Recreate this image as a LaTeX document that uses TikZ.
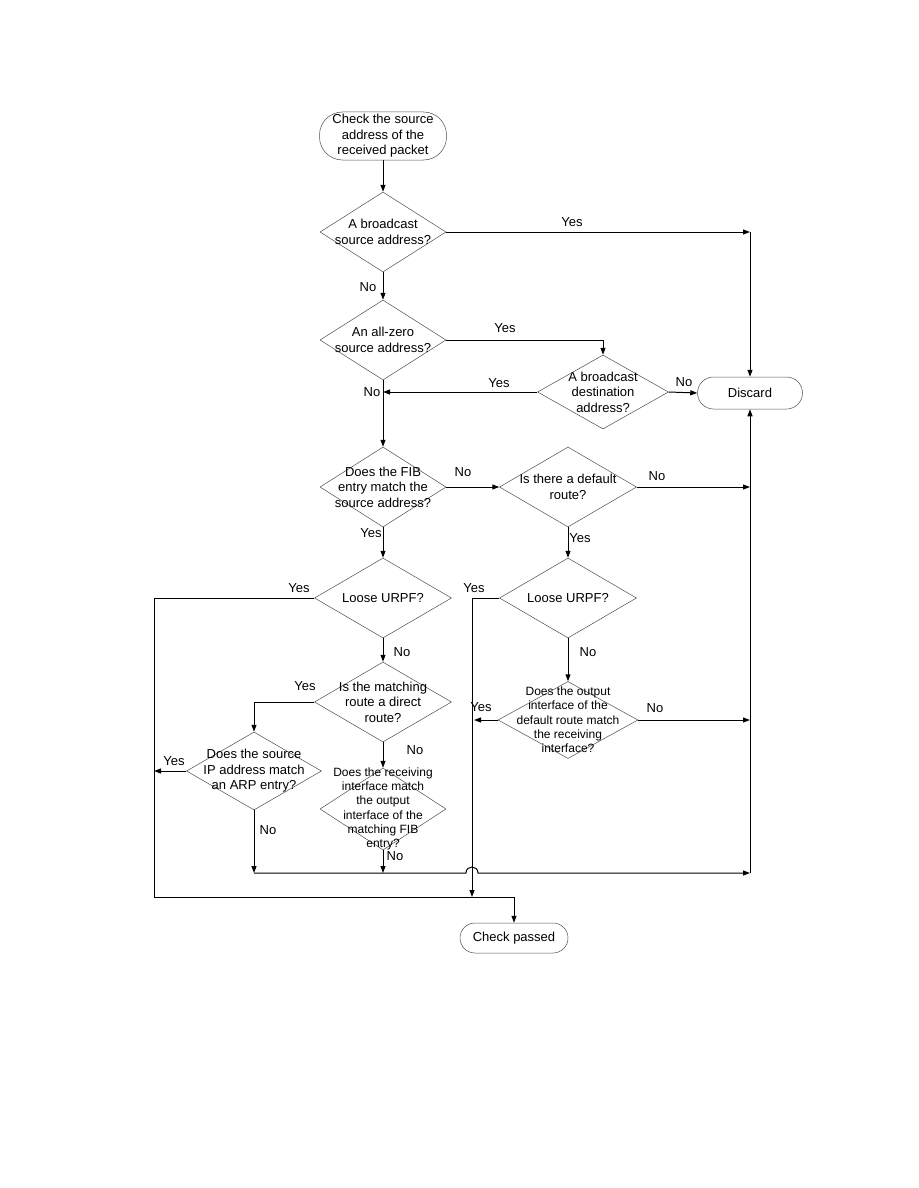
\documentclass[tikz,border=0pt]{standalone}
\usepackage{fontspec}
\setmainfont{Liberation Sans}
\usetikzlibrary{shapes.geometric,arrows.meta}
\begin{document}
\begin{tikzpicture}[x=1pt,y=-1pt,
  dia/.style={draw=black!70, line width=0.5pt, diamond, inner sep=0pt},
  term/.style={draw=black!70, line width=0.5pt, rectangle, inner sep=0pt},
  txt/.style={align=center, font=\fontsize{13}{15.5}\selectfont, inner sep=0pt},
  stxt/.style={align=center, font=\fontsize{12}{14.3}\selectfont, inner sep=0pt},
  lbl/.style={font=\fontsize{13}{15.5}\selectfont, inner sep=0pt},
  conn/.style={line width=1pt, -{Triangle[length=7pt,width=5pt]}},
  wire/.style={line width=1pt}]
\useasboundingbox (0,0) rectangle (918,1188);

% terminals
\node[term, minimum width=127pt, minimum height=48pt, rounded corners=23pt] (start) at (383,136) {};
\node[txt] (startt) at (start) {Check the source\\address of the\\received packet};
\node[term, minimum width=105pt, minimum height=32pt, rounded corners=16pt] (discard) at (750,393) {};
\node[txt] (discardt) at (discard) {Discard};
\node[term, minimum width=108pt, minimum height=30pt, rounded corners=15pt] (pass) at (514,938) {};
\node[txt] (passt) at (pass) {Check passed};

% decisions
\node[dia, minimum width=126pt, minimum height=80pt] (d1) at (383,232) {};
\node[txt] (d1t) at (d1) {A broadcast\\source address?};
\node[dia, minimum width=126pt, minimum height=80pt] (d2) at (383,340) {};
\node[txt] (d2t) at (d2) {An all-zero\\source address?};
\node[dia, minimum width=131pt, minimum height=74pt] (d3) at (603,392) {};
\node[txt] (d3t) at (d3) {A broadcast\\destination\\address?};
\node[dia, minimum width=126pt, minimum height=80pt] (d4) at (383,487) {};
\node[txt] (d4t) at (d4) {Does the FIB\\entry match the\\source address?};
\node[dia, minimum width=137pt, minimum height=80pt] (d5) at (568,487) {};
\node[txt] (d5t) at (d5) {Is there a default\\route?};
\node[dia, minimum width=137pt, minimum height=80pt] (d6) at (383,598) {};
\node[txt] (d6t) at (d6) {Loose URPF?};
\node[dia, minimum width=137pt, minimum height=80pt] (d7) at (568,598) {};
\node[txt] (d7t) at (d7) {Loose URPF?};
\node[dia, minimum width=137pt, minimum height=80pt] (d8) at (383,702) {};
\node[txt] (d8t) at (d8) {Is the matching\\route a direct\\route?};
\node[dia, minimum width=135pt, minimum height=78pt] (d9) at (254,771) {};
\node[txt] (d9t) at (d9) {Does the source\\IP address match\\an ARP entry?};
\node[dia, minimum width=126pt, minimum height=82pt] (d10) at (383,809) {};
\node[stxt] (d10t) at (d10) {Does the receiving\\interface match\\the output\\interface of the\\matching FIB\\entry?};
\node[dia, minimum width=140pt, minimum height=77pt] (d11) at (568,720) {};
\node[stxt] (d11t) at (d11) {Does the output\\interface of the\\default route match\\the receiving\\interface?};

% junction coordinates
\coordinate (jr1) at (750,232);
\coordinate (jr2) at (750,487);
\coordinate (jr3) at (750,720);
\coordinate (jr4) at (750,873);
\coordinate (jd3) at (383,392);
\coordinate (cB) at (154,897);
\coordinate (cM) at (472,897);
\coordinate (cY) at (154,771);
\coordinate (cY2) at (474,720);
\coordinate (cN1) at (254,873);
\coordinate (cN2) at (383,873);
\coordinate (cH1) at (466,873);
\coordinate (cH2) at (478,873);

% connectors
\draw[conn] (start.south) -- (d1.north);
\draw[conn] (d1.east) -- (jr1);
\draw[conn] (jr1) -- (discard.north);
\draw[conn] (d1.south) -- (d2.north);
\draw[conn] (d2.east) -| (d3.north);
\draw[conn] (d3.west) -- (jd3);
\draw[conn] (d3.east) -- (discard.west);
\draw[conn] (d2.south) -- (d4.north);
\draw[conn] (d4.east) -- (d5.west);
\draw[conn] (d5.east) -- (jr2);
\draw[conn] (d4.south) -- (d6.north);
\draw[conn] (d5.south) -- (d7.north);
\draw[conn] (d6.west) -| (cB) -| (pass.north);
\draw[conn] (d7.west) -| (cM);
\draw[conn] (d6.south) -- (d8.north);
\draw[conn] (d8.west) -| (d9.north);
\draw[conn] (d9.west) -- (cY);
\draw[conn] (d9.south) -- (cN1);
\draw[conn] (d8.south) -- (d10.north);
\draw[conn] (d10.south) -- (cN2);
\draw[conn] (d7.south) -- (d11.north);
\draw[conn] (d11.west) -- (cY2);
\draw[conn] (d11.east) -- (jr3);
\draw[conn] (cN1) -- (cH1) .. controls +(0,-8) and +(0,-8) .. (cH2) -- (jr4);
\draw[conn] (jr4) -- (discard.south);

% labels
\node[lbl] (l1) at (572,222) {Yes};
\node[lbl] (l2) at (368,287) {No};
\node[lbl] (l3) at (505,328) {Yes};
\node[lbl] (l4) at (499,383) {Yes};
\node[lbl] (l5) at (372,392) {No};
\node[lbl] (l6) at (684,382) {No};
\node[lbl] (l7) at (463,472) {No};
\node[lbl] (l8) at (657,476) {No};
\node[lbl] (l9) at (371,533) {Yes};
\node[lbl] (l10) at (580,538) {Yes};
\node[lbl] (l11) at (299,588) {Yes};
\node[lbl] (l12) at (474,588) {Yes};
\node[lbl] (l13) at (402,652) {No};
\node[lbl] (l14) at (588,652) {No};
\node[lbl] (l15) at (305,686) {Yes};
\node[lbl] (l16) at (481,707) {Yes};
\node[lbl] (l17) at (655,708) {No};
\node[lbl] (l18) at (415,750) {No};
\node[lbl] (l19) at (174,761) {Yes};
\node[lbl] (l20) at (268,830) {No};
\node[lbl] (l21) at (395,856) {No};
\end{tikzpicture}
\end{document}
